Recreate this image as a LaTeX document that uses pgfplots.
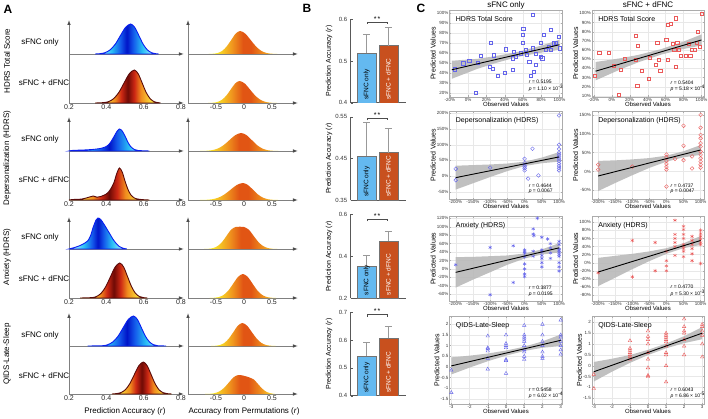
\documentclass[border=0pt]{standalone}
\usepackage{fontspec}
\setmainfont{Liberation Sans}
\usepackage{pgfplots}
\pgfplotsset{compat=1.18}
\usetikzlibrary{arrows.meta}

\definecolor{lcyan}{RGB}{150,230,255}
\definecolor{mcyan}{RGB}{40,190,245}
\definecolor{mblue}{RGB}{20,90,235}
\definecolor{dblue}{RGB}{0,20,200}
\definecolor{cblue}{RGB}{10,30,240}
\definecolor{ryel}{RGB}{250,225,60}
\definecolor{rora}{RGB}{240,140,30}
\definecolor{rred}{RGB}{205,40,20}
\definecolor{rdark}{RGB}{110,10,5}
\definecolor{rout}{RGB}{90,10,10}
\definecolor{oyel}{RGB}{250,235,40}
\definecolor{oora}{RGB}{240,150,30}
\definecolor{odark}{RGB}{225,85,20}
\definecolor{barblue}{RGB}{100,185,240}
\definecolor{barred}{RGB}{200,80,30}
\definecolor{scblue}{RGB}{100,100,235}
\definecolor{scred}{RGB}{235,90,90}

\pgfdeclarehorizontalshading{blueshade}{100bp}{color(0bp)=(lcyan); color(30bp)=(lcyan); color(38bp)=(mcyan); color(45bp)=(mblue); color(50bp)=(dblue); color(55bp)=(mblue); color(62bp)=(mcyan); color(70bp)=(lcyan); color(100bp)=(lcyan)}
\pgfdeclarehorizontalshading{redshade}{100bp}{color(0bp)=(ryel); color(32bp)=(ryel); color(40bp)=(rora); color(45bp)=(rred); color(50bp)=(rdark); color(55bp)=(rred); color(60bp)=(rora); color(68bp)=(ryel); color(100bp)=(ryel)}
\pgfdeclarehorizontalshading{orangeshade}{100bp}{color(0bp)=(oyel); color(30bp)=(oyel); color(42bp)=(oora); color(50bp)=(odark); color(56bp)=(odark); color(66bp)=(oora); color(75bp)=(oyel); color(100bp)=(oyel)}

\pgfplotsset{
 /pgf/number format/assume math mode=true,
 densL/.style={scale only axis, anchor=south west, width=112pt, xmin=0.2, xmax=0.8, ymin=0, clip=false,
   axis line style={draw=none}, tick style={draw=none}, ytick=\empty, xtick={0.2,0.4,0.6,0.8},
   xticklabel style={font=\fontsize{7}{8}\selectfont, inner sep=1.5pt, text=black!85}},
 densR/.style={densL, xmin=-1, xmax=1, xtick={-0.5,0,0.5}},
 axln/.style={draw=gray, line width=0.9pt, -{Latex[length=5pt,width=3.6pt,color=black!70]}},
 bfill/.style={shade, shading=blueshade, draw=cblue, line width=0.9pt, smooth},
 rfill/.style={shade, shading=redshade, draw=rout, line width=0.9pt, smooth},
 ofill/.style={shade, shading=orangeshade, draw=none, smooth},
 barax/.style={scale only axis, anchor=south west, width=55.3pt, xmin=0.259, xmax=2.82, xtick=\empty,
   axis x line*=bottom, axis y line*=left, axis line style={-, gray!70!black, line width=0.5pt},
   tick align=inside, major tick length=2pt, ytick style={gray!70!black},
   yticklabel style={font=\fontsize{6}{7}\selectfont, text=black!80}, clip mode=individual},
 errb/.style={error bars/y dir=plus, error bars/y explicit, error bars/error bar style={gray!80, line width=0.9pt},
   error bars/error mark options={rotate=90, mark size=3.5pt, gray!80, line width=0.9pt}},
 bbar/.style={ybar, bar width=19pt, fill=barblue, draw=black!55, line width=0.3pt, errb},
 rbar/.style={ybar, bar width=19pt, fill=barred, draw=black!55, line width=0.3pt, errb},
 scat/.style={scale only axis, anchor=south west, clip mode=individual, grid=major,
   grid style={gray!18, line width=0.3pt}, axis line style={gray!65, line width=0.4pt},
   tick style={gray!65, line width=0.3pt}, major tick length=1.5pt, tick align=inside,
   ticklabel style={font=\fontsize{4.5}{5}\selectfont, text=black!80, inner sep=1pt},
   xlabel={Observed Values}, ylabel={Predicted Values},
   xlabel style={font=\fontsize{6}{6}\selectfont, inner sep=0pt, yshift=0.5pt},
   ylabel style={font=\fontsize{7}{7}\selectfont, inner sep=0pt}},
 pctx/.style={xticklabel={\pgfmathprintnumber{\tick}\%}},
 pcty/.style={yticklabel={\pgfmathprintnumber{\tick}\%}},
 band/.style={fill=gray!55, draw=none, fill opacity=0.9},
 rline/.style={black, line width=0.9pt},
 bpts/.style={only marks, color=scblue, line width=0.4pt, mark size=1.6pt},
 rpts/.style={only marks, color=scred, line width=0.4pt, mark size=1.6pt},
}
\newcommand{\ttl}[1]{\node[anchor=north west, font=\fontsize{7}{8}\selectfont, inner sep=0pt] at (rel axis cs:0.055,0.93) {#1};}
\newcommand{\stats}[2]{\node[anchor=south west, align=left, font=\fontsize{5}{5.5}\selectfont, inner sep=0pt] at (rel axis cs:0.70,0.06) {\textit{r} = #1\\\textit{p} = #2};}
\newcommand{\sig}[2]{\draw[black!70, line width=0.5pt] (axis cs:1.03,#1) ++(0pt,-2pt) -- ++(0pt,2pt) -- (axis cs:1.93,#1) -- ++(0pt,-2pt);
  \node[anchor=south, font=\fontsize{7}{7}\selectfont, inner sep=0.5pt] at (axis cs:1.48,#1) {*\,*};
  \node[rotate=90, anchor=west, font=\fontsize{6.5}{7}\selectfont, inner sep=0pt] at (axis cs:1,#2) {sFNC only};
  \node[rotate=90, anchor=west, font=\fontsize{6.5}{7}\selectfont, inner sep=0pt, text=white] at (axis cs:2,#2) {sFNC + dFNC};}

\begin{document}
\begin{tikzpicture}
\useasboundingbox (0,0) rectangle (708pt,418pt);

% ---------------- Panel labels
\node[font=\bfseries\fontsize{12}{12}\selectfont] at (8pt,409pt) {A};
\node[font=\bfseries\fontsize{12}{12}\selectfont] at (307pt,410pt) {B};
\node[font=\bfseries\fontsize{12}{12}\selectfont] at (421pt,410pt) {C};
\begin{scope}[every node/.style={font=\fontsize{8}{9}\selectfont}]
\node[rotate=90] at (7pt,357pt) {HDRS Total Score};
\node[rotate=90] at (7pt,260pt) {Depersonalization (HDRS)};
\node[rotate=90] at (7pt,161pt) {Anxiety (HDRS)};
\node[rotate=90] at (7pt,64pt) {QIDS-Late-Sleep};
\node at (40pt,376pt) {sFNC only}; \node at (44pt,335pt) {sFNC + dFNC};
\node at (40pt,279pt) {sFNC only}; \node at (44pt,238pt) {sFNC + dFNC};
\node at (40pt,181pt) {sFNC only}; \node at (44pt,139pt) {sFNC + dFNC};
\node at (40pt,83pt) {sFNC only};  \node at (44pt,42pt) {sFNC + dFNC};
\node at (125pt,7pt) {Prediction Accuracy (\textit{r})};
\node at (244pt,7pt) {Accuracy from Permutations (\textit{r})};
\end{scope}

% ---------------- Row 1 densities
\begin{axis}[densL, at={(69pt,315pt)}, height=83pt, ymax=83]
\addplot[axln] coordinates {(0.2,0) (0.2,83)};
\addplot[axln] coordinates {(0.2,49) (0.816,49)};
\addplot[axln] coordinates {(0.2,0) (0.816,0)};
\addplot[bfill] coordinates {(0.34,49) (0.365,49.3) (0.3925,50.3) (0.42,53.1) (0.4475,58.7) (0.475,67.2) (0.5025,75.5) (0.53,79) (0.5525,75.5) (0.575,67.2) (0.5975,58.7) (0.62,53.1) (0.6425,50.3) (0.665,49.3) (0.68,49)} -- cycle;
\addplot[rfill] coordinates {(0.34,0) (0.385,0.4) (0.4125,1.4) (0.44,4.5) (0.4675,10.7) (0.495,20) (0.5225,29.1) (0.55,33) (0.571,29.1) (0.592,20) (0.613,10.7) (0.634,4.5) (0.655,1.4) (0.676,0.4) (0.69,0)} -- cycle;
\end{axis}
\begin{axis}[densR, at={(188pt,315pt)}, height=83pt, ymax=83]
\addplot[axln] coordinates {(-1,0) (-1,83)};
\addplot[axln] coordinates {(-1,49) (0.964,49)};
\addplot[axln] coordinates {(-1,0) (0.964,0)};
\addplot[ofill] coordinates {(-0.63,49) (-0.55,49.26) (-0.47,50) (-0.39,52.1) (-0.31,56.5) (-0.23,62.9) (-0.15,69.3) (-0.07,72) (0.025,69.3) (0.12,62.9) (0.215,56.5) (0.31,52.1) (0.405,50) (0.5,49.26) (0.595,49)} -- cycle;
\addplot[ofill] coordinates {(-0.64,0) (-0.56,0.24) (-0.48,0.97) (-0.40,3.0) (-0.32,7.1) (-0.24,13.3) (-0.16,19.4) (-0.08,22) (0.015,19.4) (0.11,13.3) (0.205,7.1) (0.30,3.0) (0.395,0.97) (0.49,0.24) (0.585,0)} -- cycle;
\end{axis}

% ---------------- Row 2 densities
\begin{axis}[densL, at={(69pt,218pt)}, height=83pt, ymax=83]
\addplot[axln] coordinates {(0.2,0) (0.2,83)};
\addplot[axln] coordinates {(0.2,49) (0.816,49)};
\addplot[axln] coordinates {(0.2,0) (0.816,0)};
\addplot[bfill] coordinates {(0.2,49) (0.22,49.6) (0.28,50) (0.33,50.6) (0.37,51.6) (0.40,53.5) (0.42,57) (0.44,63) (0.455,68) (0.47,71) (0.485,69) (0.50,64) (0.515,58) (0.53,53.5) (0.55,50.5) (0.57,49.5) (0.63,49)} -- cycle;
\addplot[rfill] coordinates {(0.2,0) (0.22,0.5) (0.27,1) (0.31,3) (0.33,4) (0.35,2.8) (0.37,3.5) (0.40,6) (0.42,10) (0.44,17) (0.455,26) (0.47,32) (0.485,28) (0.50,19) (0.515,11) (0.53,5.5) (0.55,2) (0.58,0.6) (0.63,0)} -- cycle;
\end{axis}
\begin{axis}[densR, at={(188pt,218pt)}, height=83pt, ymax=83]
\addplot[axln] coordinates {(-1,0) (-1,83)};
\addplot[axln] coordinates {(-1,49) (0.964,49)};
\addplot[axln] coordinates {(-1,0) (0.964,0)};
\addplot[ofill] coordinates {(-0.785,49) (-0.68,49.2) (-0.575,49.79) (-0.47,51.4) (-0.365,54.8) (-0.26,59.9) (-0.155,64.9) (-0.05,67) (0.045,64.9) (0.14,59.9) (0.235,54.8) (0.33,51.4) (0.425,49.79) (0.52,49.2) (0.615,49)} -- cycle;
\addplot[ofill] coordinates {(-0.79,0) (-0.68,0.19) (-0.57,0.75) (-0.46,2.3) (-0.35,5.5) (-0.24,10.3) (-0.13,15.0) (-0.02,17) (0.07,15.0) (0.16,10.3) (0.25,5.5) (0.34,2.3) (0.43,0.75) (0.52,0.19) (0.61,0)} -- cycle;
\end{axis}

% ---------------- Row 3 densities
\begin{axis}[densL, at={(69pt,120pt)}, height=81pt, ymax=81]
\addplot[axln] coordinates {(0.2,0) (0.2,81)};
\addplot[axln] coordinates {(0.2,49) (0.816,49)};
\addplot[axln] coordinates {(0.2,0) (0.816,0)};
\addplot[bfill] coordinates {(0.2,49) (0.23,50.5) (0.26,52.5) (0.285,55) (0.30,57) (0.315,62) (0.33,71) (0.345,78) (0.355,80) (0.37,78.5) (0.39,73) (0.416,65) (0.435,59) (0.451,55) (0.468,51.7) (0.49,49.8) (0.51,49)} -- cycle;
\addplot[rfill] coordinates {(0.26,0) (0.322,0.4) (0.347,1.5) (0.372,4.7) (0.397,11.4) (0.422,21.2) (0.447,30.9) (0.472,35) (0.493,30.9) (0.514,21.2) (0.535,11.4) (0.556,4.7) (0.577,1.5) (0.598,0.4) (0.62,0)} -- cycle;
\end{axis}
\begin{axis}[densR, at={(188pt,120pt)}, height=81pt, ymax=81]
\addplot[axln] coordinates {(-1,0) (-1,81)};
\addplot[axln] coordinates {(-1,49) (0.964,49)};
\addplot[axln] coordinates {(-1,0) (0.964,0)};
\addplot[ofill] coordinates {(-0.71,49) (-0.63,49.24) (-0.55,49.97) (-0.47,52) (-0.39,56.1) (-0.31,62.3) (-0.23,68.4) (-0.15,71) (-0.075,71.3) (0,71) (0.085,68.4) (0.17,62.3) (0.255,56.1) (0.34,52) (0.425,49.97) (0.51,49.24) (0.595,49)} -- cycle;
\addplot[ofill] coordinates {(-0.615,0) (-0.53,0.27) (-0.445,1.05) (-0.36,3.2) (-0.275,7.8) (-0.19,14.6) (-0.105,21.2) (-0.02,24) (0.065,21.2) (0.15,14.6) (0.235,7.8) (0.32,3.2) (0.405,1.05) (0.49,0.27) (0.575,0)} -- cycle;
\end{axis}

% ---------------- Row 4 densities
\begin{axis}[densL, at={(69pt,24pt)}, height=81pt, ymax=81]
\addplot[axln] coordinates {(0.2,0) (0.2,81)};
\addplot[axln] coordinates {(0.2,48) (0.816,48)};
\addplot[axln] coordinates {(0.2,0) (0.816,0)};
\addplot[bfill] coordinates {(0.30,48) (0.38,48.3) (0.4075,49.3) (0.435,52.1) (0.4625,57.7) (0.49,66.2) (0.5175,74.5) (0.545,78) (0.5665,74.5) (0.588,66.2) (0.6095,57.7) (0.631,52.1) (0.6525,49.3) (0.674,48.3) (0.72,48)} -- cycle;
\addplot[rfill] coordinates {(0.43,0) (0.454,0.4) (0.478,1.4) (0.502,4.3) (0.526,10.4) (0.55,19.4) (0.574,28.2) (0.598,32) (0.619,28.2) (0.64,19.4) (0.661,10.4) (0.682,4.3) (0.703,1.4) (0.724,0.4) (0.75,0)} -- cycle;
\end{axis}
\begin{axis}[densR, at={(188pt,24pt)}, height=81pt, ymax=81]
\addplot[axln] coordinates {(-1,0) (-1,81)};
\addplot[axln] coordinates {(-1,48) (0.964,48)};
\addplot[axln] coordinates {(-1,0) (0.964,0)};
\addplot[ofill] coordinates {(-0.59,48) (-0.51,48.26) (-0.43,49) (-0.35,51.1) (-0.27,55.5) (-0.19,61.9) (-0.11,68.3) (-0.03,71) (0.055,68.3) (0.14,61.9) (0.225,55.5) (0.31,51.1) (0.395,49) (0.48,48.26) (0.565,48)} -- cycle;
\addplot[ofill] coordinates {(-0.695,0) (-0.61,0.21) (-0.525,0.83) (-0.44,2.6) (-0.355,6.2) (-0.27,11.5) (-0.185,16.8) (-0.1,19) (0,18.2) (0.1,16.5) (0.175,14.6) (0.25,10.0) (0.325,5.4) (0.4,2.2) (0.475,0.72) (0.55,0)} -- cycle;
\end{axis}

% ---------------- Panel B
\begin{scope}[every node/.style={font=\fontsize{7}{8}\selectfont}]
\node[rotate=90] at (329pt,357pt) {Prediction Accuracy (\textit{r})};
\node[rotate=90] at (329pt,259.6pt) {Prediction Accuracy (\textit{r})};
\node[rotate=90] at (329pt,161.7pt) {Prediction Accuracy (\textit{r})};
\node[rotate=90] at (329pt,64pt) {Prediction Accuracy (\textit{r})};
\end{scope}
\begin{axis}[barax, at={(350.7pt,315.3pt)}, height=83.4pt, ymin=0.4, ymax=0.6, ytick={0.4,0.5,0.6}]
\addplot[bbar] coordinates {(1,0.518) +- (0,0.046)};
\addplot[rbar] coordinates {(2,0.537) +- (0,0.043)};
\sig{0.594}{0.407}
\end{axis}
\begin{axis}[barax, at={(350.7pt,218pt)}, height=83.3pt, ymin=0.35, ymax=0.55, ytick={0.35,0.45,0.55}]
\addplot[bbar] coordinates {(1,0.456) +- (0,0.080)};
\addplot[rbar] coordinates {(2,0.464) +- (0,0.058)};
\sig{0.546}{0.357}
\end{axis}
\begin{axis}[barax, at={(350.7pt,119.7pt)}, height=84pt, ymin=0.2, ymax=0.6, ytick={0.2,0.4,0.6}]
\addplot[bbar] coordinates {(1,0.354) +- (0,0.049)};
\addplot[rbar] coordinates {(2,0.473) +- (0,0.044)};
\sig{0.576}{0.214}
\end{axis}
\begin{axis}[barax, at={(350.7pt,22.3pt)}, height=83.4pt, ymin=0.4, ymax=0.7, ytick={0.4,0.5,0.6,0.7}]
\addplot[bbar] coordinates {(1,0.542) +- (0,0.048)};
\addplot[rbar] coordinates {(2,0.606) +- (0,0.044)};
\sig{0.692}{0.41}
\end{axis}

% ---------------- Panel C
\node[font=\fontsize{8}{9}\selectfont] at (506pt,413pt) {sFNC only};
\node[font=\fontsize{8}{9}\selectfont] at (648pt,413pt) {sFNC + dFNC};

% Row 1 left
\begin{axis}[scat, pctx, pcty, at={(449.5pt,321pt)}, width=113pt, height=87pt, xmin=-20.5, xmax=103.3, ymin=15.8, ymax=102.7, xtick={-20,0,...,100}, ytick={20,30,...,100}]
\addplot[band] coordinates {(-18,52) (10,53.9) (30,56.7) (55,61) (80,67.1) (100,73) (100,63) (80,60.1) (55,56) (30,49.7) (10,43.9) (-18,34)} -- cycle;
\addplot[bpts, mark=square] coordinates {(-14.6,43.6) (-5.5,49.5) (1,52) (10,50) (13.6,56.8) (23.4,46) (25,70) (27,44) (28,57.5) (32.4,37) (39.6,40) (40.7,63.5) (48.7,43) (49.8,61) (48.7,54.5) (52.3,56) (57.7,59.5) (59.5,70) (60.2,84.4) (59.5,77.8) (63,62.8) (64,58) (66.7,51.2) (68.5,37) (70.4,98.3) (71,64.5) (72,41) (74,58.8) (74,48) (79.4,70) (79.4,56) (81,54.5) (83,77.8) (84.8,62.8) (88.4,66) (90,82.7) (90,62.8) (94,69.5) (95.7,70) (99,76) (100,64.5) (8,20)};
\addplot[rline] coordinates {(-18,43) (100,68)};
\ttl{HDRS Total Score}
\stats{0.5195}{1.10 × 10\textsuperscript{-3}}
\end{axis}
% Row 1 right
\begin{axis}[scat, pctx, pcty, at={(592pt,321pt)}, width=112pt, height=87pt, xmin=-22, xmax=102.8, ymin=8.9, ymax=103.6, xtick={-20,0,...,100}, ytick={10,20,...,100}]
\addplot[band] coordinates {(-18,47) (10,51.1) (30,54.8) (55,61) (80,69.2) (100,77) (100,65) (80,61.2) (55,55) (30,46.8) (10,39.1) (-18,27)} -- cycle;
\addplot[rpts, mark=square] coordinates {(-19,31.8) (-14,57.2) (-3.2,57.2) (2.6,42.7) (10.4,38.3) (14.7,51) (26.6,75.3) (29,64.4) (26.6,49.2) (33.7,37.2) (28.4,20.9) (41,29.2) (42,51.7) (49,43.7) (50.6,68.4) (54,37.6) (52.7,49.2) (60.6,71.7) (62.4,87.3) (66,88.4) (62.4,49.2) (67.8,67.3) (69.6,60) (71.3,94.6) (71.3,42) (73,68) (75,60) (76.7,53.5) (82,53.5) (85.7,67.3) (87.5,53.5) (89,60.8) (92.8,60) (94.6,68) (95.7,80) (98,63.7) (100,99.3) (7.6,11)};
\addplot[rline] coordinates {(-18,37) (100,71)};
\ttl{HDRS Total Score}
\stats{0.5404}{5.18 × 10\textsuperscript{-4}}
\end{axis}

% Row 2 left
\begin{axis}[scat, pctx, pcty, at={(449.5pt,219pt)}, width=113pt, height=87.5pt, xmin=-218, xmax=110, ymin=-73, ymax=205.7, xtick={-200,-150,...,100}, ytick={-50,0,...,200}]
\addplot[band] coordinates {(-200,33) (-150,35) (-100,37) (-50,40) (0,46) (50,59) (100,76) (100,46) (50,41) (0,32) (-50,16) (-100,-3) (-150,-23) (-200,-43)} -- cycle;
\addplot[bpts, mark=o, mark size=1.9pt] coordinates {(-200,23) (-200,-13) (-100,27) (0,55) (0,42) (0,35) (0,30) (0,25) (0,18) (10,-8) (23,87) (40,2) (100,193) (100,100) (100,86) (100,75) (100,68) (100,62) (100,55) (100,48) (100,40) (100,32) (100,25) (100,18)};
\addplot[rline] coordinates {(-200,-5) (100,61)};
\ttl{Depersonalization (HDRS)}
\stats{0.4644}{0.0067}
\end{axis}
% Row 2 right
\begin{axis}[scat, pctx, pcty, at={(592pt,219pt)}, width=112pt, height=87.5pt, xmin=-218, xmax=110, ymin=-73, ymax=159, xtick={-200,-150,...,100}, ytick={-50,0,...,150}]
\addplot[band] coordinates {(-200,28) (-150,29.5) (-100,32) (-50,35.5) (0,42) (50,53.5) (100,70) (100,44) (50,37.5) (0,26) (-50,9.5) (-100,-10) (-150,-30.5) (-200,-52)} -- cycle;
\addplot[rpts, mark=o, mark size=1.9pt] coordinates {(-200,18) (-200,5) (-100,13) (0,45) (0,38) (0,28) (0,20) (0,12) (0,5) (0,-40) (25,33) (50,121) (50,68) (50,30) (75,8) (75,40) (100,150) (100,116) (100,97) (100,88) (100,75) (100,66) (100,53) (100,44) (100,35) (100,26) (100,18) (100,10)};
\addplot[rline] coordinates {(-200,-12) (100,57)};
\ttl{Depersonalization (HDRS)}
\stats{0.4737}{0.0047}
\end{axis}

% Row 3 left
\begin{axis}[scat, pctx, pcty, at={(449.5pt,116.5pt)}, width=113pt, height=85.5pt, xmin=-218, xmax=110, ymin=-77, ymax=125.4, xtick={-200,-150,...,100}, ytick={-60,-40,...,120}]
\addplot[band] coordinates {(-200,28) (-150,28.7) (-100,30.3) (-50,32) (0,36.7) (50,46.3) (100,61) (100,39) (50,34.3) (0,24.7) (-50,10) (-100,-7.7) (-150,-25.3) (-200,-44)} -- cycle;
\addplot[bpts, mark=asterisk, mark size=1.9pt] coordinates {(-200,10) (-100,51) (-100,-61) (-33,55) (-33,-32) (0,45) (0,40) (0,37) (0,29) (0,12) (0,0) (0,-12) (0,-18) (25,95) (25,83) (25,42) (25,30) (50,75) (50,45) (50,40) (50,32) (50,25) (50,15) (50,5) (75,60) (75,50) (75,38) (75,25) (100,58) (100,47) (100,44) (100,40) (100,35) (100,30) (100,15) (100,5) (100,-5) (37,120) (27,79) (67,71) (100,65)};
\addplot[rline] coordinates {(-200,-8) (100,50)};
\ttl{Anxiety (HDRS)}
\stats{0.3877}{0.0195}
\end{axis}
% Row 3 right
\begin{axis}[scat, pctx, pcty, at={(592pt,116.5pt)}, width=112pt, height=85.5pt, xmin=-218, xmax=110, ymin=-96, ymax=115.6, xtick={-200,-150,...,100}, ytick={-80,-60,...,100}]
\addplot[band] coordinates {(-200,12) (-150,17) (-100,22) (-50,28) (0,36) (50,48) (100,66) (100,44) (50,36) (0,22) (-50,4) (-100,-16) (-150,-37) (-200,-58)} -- cycle;
\addplot[rpts, mark=asterisk, mark size=1.9pt] coordinates {(-200,-25) (-100,55) (-100,-35) (-33,50) (-33,-20) (0,28) (0,5) (0,-8) (0,-20) (25,105) (25,70) (25,60) (25,50) (25,40) (25,18) (50,90) (50,82) (50,70) (50,60) (50,45) (50,40) (50,35) (50,28) (50,15) (75,65) (75,55) (75,45) (75,35) (75,22) (75,5) (100,80) (100,72) (100,65) (100,58) (100,50) (100,45) (100,-2)};
\addplot[rline] coordinates {(-200,-23) (100,55)};
\ttl{Anxiety (HDRS)}
\stats{0.4770}{5.30 × 10\textsuperscript{-3}}
\end{axis}

% Row 4 left
\begin{axis}[scat, at={(449.5pt,13.5pt)}, width=113pt, height=88.5pt, xmin=-3.1, xmax=3.1, ymin=-1.76, ymax=2.39, xtick={-3,-2,...,3}, ytick={-1.5,-1,...,2}]
\addplot[band] coordinates {(-3,0.45) (-2,0.53) (-1,0.63) (0,0.77) (1,0.95) (2,1.2) (3,1.52) (3,0.98) (2,0.9) (1,0.75) (0,0.53) (-1,0.27) (-2,-0.03) (-3,-0.35)} -- cycle;
\addplot[bpts, mark=triangle, mark size=2pt] coordinates {(-3,-1.2) (-3,-0.15) (-1,1.45) (-1,0.9) (-1,0.85) (-1,0.75) (-1,0.4) (-1,-0.1) (0,1.5) (0,1.1) (0,1.0) (0,0.9) (0,0.35) (0,0.3) (0,-0.3) (1,1.95) (1,1.5) (1,1.4) (1,1.3) (1,1.2) (1,1.0) (1,0.8) (1,0.7) (1,0.5) (1,0.35) (2,2.0) (2,1.5) (2,1.2) (2,1.0) (2,0.7) (2,0.5) (2,0.4) (3,2.2) (3,1.5) (3,1.4) (3,1.2) (3,1.0) (3,0.8) (3,0.6)};
\addplot[rline] coordinates {(-3,0.05) (3,1.25)};
\ttl{QIDS-Late-Sleep}
\stats{0.5458}{6.02 × 10\textsuperscript{-4}}
\end{axis}
% Row 4 right
\begin{axis}[scat, at={(592pt,13.5pt)}, width=112pt, height=88.5pt, xmin=-3.1, xmax=3.1, ymin=-1.79, ymax=2.29, xtick={-3,-2,...,3}, ytick={-1.5,-1,...,2}]
\addplot[band] coordinates {(-3,0.17) (-2,0.32) (-1,0.49) (0,0.73) (1,1.02) (2,1.36) (3,1.78) (3,1.22) (2,1.04) (1,0.8) (0,0.49) (-1,0.13) (-2,-0.28) (-3,-0.73)} -- cycle;
\addplot[rpts, mark=triangle, mark size=2pt] coordinates {(-3,-0.4) (-3,-1.05) (-1,1.15) (-1,0.8) (-1,0.7) (-1,0.6) (-1,0.5) (-1,0.4) (-1,0.3) (0,1.6) (0,1.35) (0,1.2) (0,1.0) (0,0.6) (0,0.3) (0,-0.1) (0,-0.5) (0,-0.45) (1,1.5) (1,1.4) (1,1.3) (1,1.2) (1,1.1) (1,0.9) (1,0.6) (1,0.5) (1,0) (1,-0.75) (2,2.15) (2,1.8) (2,1.6) (2,1.5) (2,1.2) (2,0.9) (2,0.5) (3,1.9) (3,1.8) (3,1.6) (3,1.4) (3,1.0) (3,0.4)};
\addplot[rline] coordinates {(-3,-0.28) (3,1.5)};
\ttl{QIDS-Late-Sleep}
\stats{0.6043}{6.86 × 10\textsuperscript{-5}}
\end{axis}
\end{tikzpicture}
\end{document}
